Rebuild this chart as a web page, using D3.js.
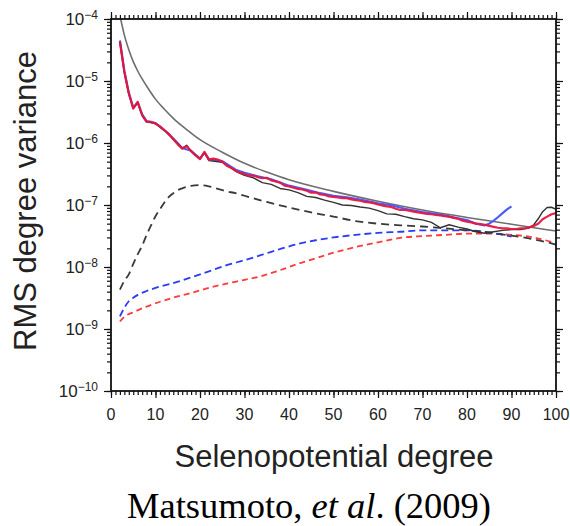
<!DOCTYPE html>
<html>
<head>
<meta charset="utf-8">
<script src="https://cdn.jsdelivr.net/npm/d3@7"></script>
<style>
  html, body { margin: 0; padding: 0; background: #fff; }
  svg { display: block; }
</style>
</head>
<body>
<svg id="chart" width="570" height="526"></svg>
<script>
// ---- data: RMS degree variance vs. selenopotential degree ----

// Kaula-type power law (smooth gray curve)
const kaulaDeg = [2, 3, 4, 5, 6, 7, 8, 10, 12, 14, 17, 20, 25, 30, 35, 40, 50, 60, 70, 80, 90, 100];
const kaulaVal = [1.15e-4, 5.5e-5, 3.2e-5, 2.05e-5, 1.45e-5, 1.08e-5, 8.3e-6, 5.1e-6, 3.5e-6, 2.5e-6,
                  1.65e-6, 1.13e-6, 7.1e-7, 4.7e-7, 3.4e-7, 2.55e-7, 1.66e-7, 1.15e-7, 8.3e-8, 6.3e-8, 4.9e-8, 3.8e-8];

// observed solution 1 (red)
const redDeg = d3.range(2, 101);
const redVal = [
  4.3e-5, 1.4e-5, 6.3e-6, 3.6e-6, 4.6e-6, 2.8e-6, 2.2e-6, 2.2e-6, 2.05e-6,
  1.85e-6, 1.6e-6, 1.4e-6, 1.15e-6, 9.5e-7, 8.1e-7, 8.9e-7, 7.4e-7, 6.3e-7, 5.5e-7,
  7.2e-7, 5.4e-7, 5.6e-7, 5.4e-7, 5.0e-7, 4.3e-7, 4.0e-7, 3.6e-7, 3.3e-7, 3.2e-7,
  2.95e-7, 3.0e-7, 2.8e-7, 2.7e-7, 2.75e-7, 2.5e-7, 2.4e-7, 2.3e-7, 2.05e-7, 2.0e-7,
  1.9e-7, 1.82e-7, 1.78e-7, 1.7e-7, 1.58e-7, 1.6e-7, 1.48e-7, 1.45e-7, 1.38e-7, 1.35e-7,
  1.32e-7, 1.29e-7, 1.29e-7, 1.23e-7, 1.2e-7, 1.17e-7, 1.12e-7, 1.1e-7, 1.07e-7, 1.02e-7,
  9.8e-8, 9.5e-8, 9.3e-8, 8.7e-8, 8.3e-8, 8.3e-8, 8.1e-8, 7.8e-8, 7.6e-8, 7.4e-8,
  7.2e-8, 7.1e-8, 6.9e-8, 6.8e-8, 6.6e-8, 6.5e-8, 6.2e-8, 6.0e-8, 5.6e-8, 5.4e-8,
  5.25e-8, 5.0e-8, 4.9e-8, 4.8e-8, 4.6e-8, 4.45e-8, 4.3e-8, 4.2e-8, 4.2e-8, 4.1e-8,
  4.1e-8, 4.2e-8, 4.2e-8, 4.35e-8, 4.6e-8, 5.0e-8, 5.9e-8, 6.5e-8, 7.1e-8, 7.4e-8
];

// observed solution 2 (blue), up to degree 90
const blueDeg = [2, 3, 4, 5, 6, 7, 8, 10, 12, 14, 16, 18, 20, 21, 22, 25, 28, 30, 33, 36, 40, 44,
                 47, 50, 53, 56, 60, 63, 66, 70, 74, 78, 80, 82, 84, 85, 86, 87, 88, 89, 90];
const blueVal = [4.5e-5, 1.45e-5, 6.5e-6, 3.7e-6, 4.5e-6, 2.9e-6, 2.25e-6, 2.1e-6, 1.62e-6, 1.18e-6,
                 8.3e-7, 7.5e-7, 5.6e-7, 7.0e-7, 5.5e-7, 5.1e-7, 3.7e-7, 3.3e-7, 2.9e-7, 2.6e-7, 2.05e-7, 1.75e-7,
                 1.55e-7, 1.4e-7, 1.33e-7, 1.22e-7, 1.06e-7, 9.9e-8, 8.7e-8, 7.7e-8, 7.0e-8, 6.1e-8, 5.7e-8, 5.0e-8,
                 4.7e-8, 5.0e-8, 5.6e-8, 6.4e-8, 7.4e-8, 8.5e-8, 9.5e-8];

// observed solution 3 (black)
const blackDeg = [2, 3, 4, 5, 6, 7, 8, 10, 12, 14, 16, 17, 18, 20, 21, 22, 25, 28, 30, 32, 34, 36, 38,
                  40, 42, 44, 46, 48, 50, 52, 54, 56, 58, 60, 62, 64, 66, 68, 70, 72, 74, 76, 78, 80,
                  82, 84, 86, 88, 90, 92, 94, 95, 96, 97, 98, 99, 100];
const blackVal = [4.3e-5, 1.4e-5, 6.2e-6, 3.6e-6, 4.5e-6, 2.8e-6, 2.2e-6, 2.05e-6, 1.6e-6, 1.15e-6,
                  8.3e-7, 9.2e-7, 7.3e-7, 5.6e-7, 7.0e-7, 5.2e-7, 4.9e-7, 3.5e-7, 3.0e-7, 2.75e-7, 2.3e-7, 2.15e-7, 1.85e-7,
                  1.75e-7, 1.58e-7, 1.38e-7, 1.32e-7, 1.2e-7, 1.1e-7, 1.0e-7, 9.8e-8, 9.3e-8, 8.9e-8, 8.1e-8, 7.2e-8, 7.1e-8,
                  6.5e-8, 6.0e-8, 5.75e-8, 5.25e-8, 4.3e-8, 4.8e-8, 4.4e-8, 4.1e-8,
                  3.7e-8, 3.5e-8, 3.7e-8, 3.9e-8, 4.0e-8, 4.0e-8, 4.3e-8, 4.8e-8, 6.0e-8, 7.8e-8, 9.1e-8, 9.2e-8, 8.5e-8];

// model / error spectra (dashed)
const dashBlackDeg = [2, 3, 4, 5, 6, 7, 8, 9, 10, 11, 12, 13, 14, 15, 16, 18, 20, 22, 24, 26, 28, 30,
                      35, 40, 45, 50, 55, 60, 65, 70, 75, 80, 85, 90, 95, 100];
const dashBlackVal = [4.3e-9, 6.0e-9, 7.6e-9, 1.12e-8, 1.6e-8, 2.2e-8, 3.3e-8, 4.7e-8, 6.6e-8, 8.5e-8,
                      1.1e-7, 1.35e-7, 1.55e-7, 1.74e-7, 1.86e-7, 2.04e-7, 2.09e-7, 2.0e-7, 1.82e-7, 1.66e-7, 1.55e-7, 1.41e-7,
                      1.12e-7, 9.1e-8, 7.6e-8, 6.5e-8, 5.5e-8, 5.0e-8, 4.7e-8, 4.5e-8, 4.2e-8, 3.9e-8, 3.6e-8, 3.2e-8, 2.8e-8, 2.3e-8];

const dashBlueDeg = [2, 3, 4, 5, 6, 8, 10, 14, 18, 22, 26, 30, 34, 38, 42, 46, 50, 55, 60, 65, 70, 75, 80, 85, 90];
const dashBlueVal = [1.6e-9, 2.2e-9, 2.8e-9, 3.2e-9, 3.55e-9, 4.1e-9, 4.6e-9, 5.5e-9, 6.8e-9, 8.5e-9,
                     1.07e-8, 1.29e-8, 1.58e-8, 1.95e-8, 2.35e-8, 2.7e-8, 3.0e-8, 3.3e-8, 3.55e-8, 3.7e-8,
                     3.9e-8, 3.9e-8, 3.9e-8, 3.6e-8, 3.1e-8];

const dashRedDeg = [2, 3, 5, 8, 10, 14, 18, 22, 26, 30, 34, 38, 42, 46, 50, 55, 60, 65, 70, 75, 80, 85, 90, 95, 100];
const dashRedVal = [1.32e-9, 1.58e-9, 1.86e-9, 2.3e-9, 2.6e-9, 3.2e-9, 3.8e-9, 4.6e-9, 5.4e-9, 6.2e-9,
                    7.2e-9, 8.9e-9, 1.12e-8, 1.38e-8, 1.7e-8, 2.1e-8, 2.5e-8, 2.95e-8, 3.15e-8, 3.3e-8,
                    3.45e-8, 3.45e-8, 3.3e-8, 3.0e-8, 2.4e-8];

// axis ticks
const xTicks = [0, 10, 20, 30, 40, 50, 60, 70, 80, 90, 100];
const yExponents = [-4, -5, -6, -7, -8, -9, -10];

// ---- layout ----
const svg = d3.select("#chart");
const pLeft = 111, pRight = 556, pTop = 19, pBottom = 391;

const x = d3.scaleLinear().domain([0, 100]).range([pLeft, pRight]);
const y = d3.scaleLog().domain([1e-10, 1e-4]).range([pBottom, pTop]);

const sans = "'Liberation Sans', Arial, sans-serif";

svg.append("defs").append("clipPath").attr("id", "plotClip")
  .append("rect").attr("x", pLeft).attr("y", pTop)
  .attr("width", pRight - pLeft).attr("height", pBottom - pTop);

const plot = svg.append("g").attr("clip-path", "url(#plotClip)");

const zip = (ds, vs) => ds.map((d, i) => [d, vs[i]]);
const lineLin = d3.line().x(d => x(d[0])).y(d => y(d[1]));
const lineSmooth = d3.line().x(d => x(d[0])).y(d => y(d[1])).curve(d3.curveMonotoneX);

// dashed spectra
plot.append("path").datum(zip(dashRedDeg, dashRedVal)).attr("d", lineSmooth)
  .attr("fill", "none").attr("stroke", "#ff3b3b").attr("stroke-width", 1.8)
  .attr("stroke-dasharray", "6,4");
plot.append("path").datum(zip(dashBlueDeg, dashBlueVal)).attr("d", lineSmooth)
  .attr("fill", "none").attr("stroke", "#2b3cf5").attr("stroke-width", 1.8)
  .attr("stroke-dasharray", "7,4");
plot.append("path").datum(zip(dashBlackDeg, dashBlackVal)).attr("d", lineSmooth)
  .attr("fill", "none").attr("stroke", "#3a3a3a").attr("stroke-width", 1.8)
  .attr("stroke-dasharray", "8,5");

// Kaula curve
plot.append("path").datum(zip(kaulaDeg, kaulaVal)).attr("d", lineSmooth)
  .attr("fill", "none").attr("stroke", "#6e6e6e").attr("stroke-width", 1.6);

// observed spectra
plot.append("path").datum(zip(blueDeg, blueVal)).attr("d", lineLin)
  .attr("fill", "none").attr("stroke", "#4a5cff").attr("stroke-width", 2.2)
  .attr("stroke-linejoin", "round");
plot.append("path").datum(zip(blackDeg, blackVal)).attr("d", lineLin)
  .attr("fill", "none").attr("stroke", "#333").attr("stroke-width", 1.4)
  .attr("stroke-linejoin", "round");
plot.append("path").datum(zip(redDeg, redVal)).attr("d", lineLin)
  .attr("fill", "none").attr("stroke", "#e8163f").attr("stroke-width", 2.2)
  .attr("stroke-linejoin", "round").attr("opacity", 0.95);

// ---- axes ----
const minorX = d3.range(0, 101);
const logTicks = y.ticks();  // 1..9 multiples for each decade
const majorY = yExponents.map(e => Math.pow(10, e));

function styleAxis(g) {
  g.select(".domain").remove();
  g.selectAll("line").attr("stroke", "#111").attr("stroke-width", 1.2);
  g.selectAll("text").remove();
}

// bottom
svg.append("g").attr("transform", `translate(0,${pBottom})`)
  .call(d3.axisBottom(x).tickValues(minorX).tickSize(4)).call(styleAxis);
svg.append("g").attr("transform", `translate(0,${pBottom})`)
  .call(d3.axisBottom(x).tickValues(xTicks).tickSize(7)).call(styleAxis);
// top
svg.append("g").attr("transform", `translate(0,${pTop})`)
  .call(d3.axisTop(x).tickValues(minorX).tickSize(4)).call(styleAxis);
svg.append("g").attr("transform", `translate(0,${pTop})`)
  .call(d3.axisTop(x).tickValues(xTicks).tickSize(7)).call(styleAxis);
// left
svg.append("g").attr("transform", `translate(${pLeft},0)`)
  .call(d3.axisLeft(y).tickValues(logTicks).tickSize(4)).call(styleAxis);
svg.append("g").attr("transform", `translate(${pLeft},0)`)
  .call(d3.axisLeft(y).tickValues(majorY).tickSize(7)).call(styleAxis);
// right
svg.append("g").attr("transform", `translate(${pRight},0)`)
  .call(d3.axisRight(y).tickValues(logTicks).tickSize(4)).call(styleAxis);
svg.append("g").attr("transform", `translate(${pRight},0)`)
  .call(d3.axisRight(y).tickValues(majorY).tickSize(7)).call(styleAxis);

// frame
svg.append("rect").attr("x", pLeft).attr("y", pTop)
  .attr("width", pRight - pLeft).attr("height", pBottom - pTop)
  .attr("fill", "none").attr("stroke", "#111").attr("stroke-width", 1.8);

// x tick labels
svg.append("g").selectAll("text").data(xTicks).join("text")
  .attr("x", d => x(d)).attr("y", pBottom + 29)
  .attr("text-anchor", "middle")
  .attr("font-family", sans).attr("font-size", 16).attr("fill", "#222")
  .text(d => d);

// y tick labels: 10 with superscript exponent
const yl = svg.append("g").selectAll("text").data(yExponents).join("text")
  .attr("x", 98).attr("y", e => y(Math.pow(10, e)) + 6)
  .attr("text-anchor", "end")
  .attr("font-family", sans).attr("fill", "#222");
yl.append("tspan").attr("font-size", 17).text("10");
yl.append("tspan").attr("font-size", 12).attr("dy", -6).text(e => "\u2212" + Math.abs(e));

// axis titles
svg.append("text")
  .attr("transform", `translate(36,${(pTop + pBottom) / 2 - 4}) rotate(-90)`)
  .attr("text-anchor", "middle")
  .attr("font-family", sans).attr("font-size", 31).attr("fill", "#222")
  .text("RMS degree variance");

svg.append("text")
  .attr("x", 334).attr("y", 467)
  .attr("text-anchor", "middle")
  .attr("font-family", sans).attr("font-size", 31).attr("fill", "#222")
  .text("Selenopotential degree");

// citation
const cite = svg.append("text")
  .attr("x", 309).attr("y", 518)
  .attr("text-anchor", "middle")
  .attr("font-family", "'Liberation Serif', 'Times New Roman', serif")
  .attr("font-size", 36.5).attr("fill", "#000");
cite.append("tspan").text("Matsumoto, ");
cite.append("tspan").attr("font-style", "italic").text("et al");
cite.append("tspan").text(". (2009)");
</script>
</body>
</html>
